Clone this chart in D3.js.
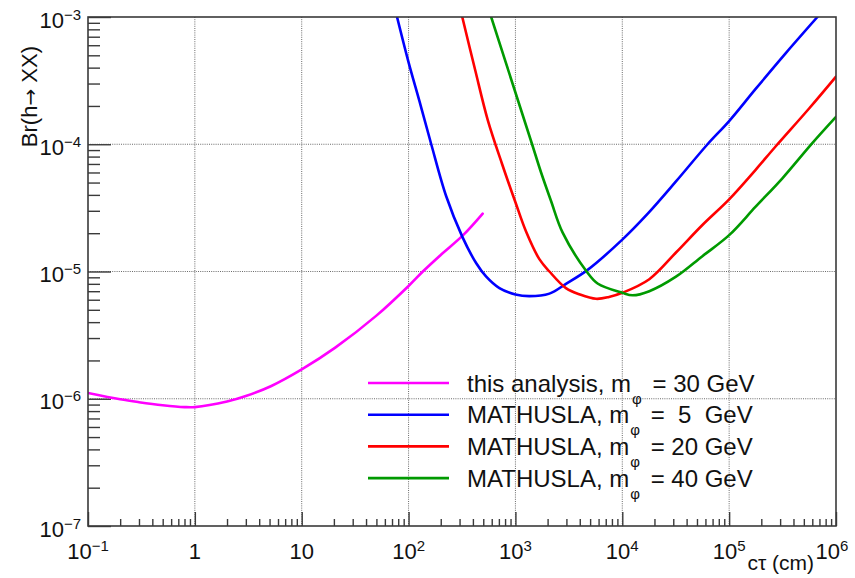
<!DOCTYPE html>
<html><head><meta charset="utf-8">
<script src="https://cdn.jsdelivr.net/npm/d3@7/dist/d3.min.js"></script>
<style>
body{margin:0;background:#fff}
svg{display:block;font-family:"Liberation Sans",Arial,Helvetica,sans-serif}
text{white-space:pre}
</style>
</head><body><svg id="chart" width="855" height="578"></svg>
<script>
// ---------- data ----------
const xTickExps = [-1, 0, 1, 2, 3, 4, 5, 6];
const yTickExps = [-7, -6, -5, -4, -3];
const xGridExps = [0, 1, 2, 3, 4, 5];
const yGridExps = [-6, -5, -4];
const minorMult = [2, 3, 4, 5, 6, 7, 8, 9];

const seriesColors = ["#ff00ff", "#0000ff", "#ff0000", "#009a00"];
const legendPrefix = ["this analysis, m", "MATHUSLA, m", "MATHUSLA, m", "MATHUSLA, m"];
const legendSub = ["φ", "φ", "φ", "φ"];
const legendSuffix = [" = 30 GeV", " =  5  GeV", " = 20 GeV", " = 40 GeV"];

const thisAnalysis30 = [[0.1,1.11e-6],[0.2,9.9e-7],[0.3,9.4e-7],[0.5,8.9e-7],[0.8,8.6e-7],[1,8.6e-7],
  [2,9.5e-7],[3,1.05e-6],[5.2,1.26e-6],[10,1.70e-6],[20.6,2.52e-6],[50,4.5e-6],[100,7.7e-6],
  [136,1.0e-5],[200,1.35e-5],[324,1.93e-5],[494,2.85e-5]];
const mathusla5 = [[78,1.0e-3],[100,4.4e-4],[127,2.15e-4],[163,1.0e-4],[225,3.9e-5],[318,1.88e-5],
  [430,1.16e-5],[533,9.1e-6],[708,7.4e-6],[1000,6.6e-6],[1350,6.4e-6],[2080,6.7e-6],[2970,8.0e-6],
  [4740,1.03e-5],[1e4,1.78e-5],[17400,2.86e-5],[31800,5.1e-5],[62800,1.0e-4],[1e5,1.52e-4],
  [1.77e5,2.72e-4],[3.39e5,5.2e-4],[6.7e5,1.0e-3]];
const mathusla20 = [[318,1.0e-3],[420,3.83e-4],[551,1.55e-4],[750,7.0e-5],[1000,3.5e-5],[1260,2.05e-5],
  [1675,1.25e-5],[2080,1.0e-5],[2970,7.4e-6],[4000,6.6e-6],[5680,6.1e-6],[7500,6.3e-6],[1e4,6.8e-6],
  [17900,8.7e-6],[31800,1.41e-5],[56200,2.32e-5],[1e5,3.69e-5],[1.77e5,6.3e-5],[2.72e5,9.6e-5],
  [5.6e5,1.91e-4],[1e6,3.4e-4]];
const mathusla40 = [[593,1.0e-3],[1000,2.55e-4],[1432,1.0e-4],[1738,6.0e-5],[2150,3.6e-5],[2767,2.02e-5],
  [4637,1.0e-5],[5873,8.05e-6],[1e4,6.8e-6],[12500,6.5e-6],[17900,7.0e-6],[31800,9.1e-6],
  [56200,1.32e-5],[1e5,1.93e-5],[1.77e5,3.23e-5],[3.15e5,5.4e-5],[6.0e5,1.02e-4],[1e6,1.64e-4]];
const allSeries = [thisAnalysis30, mathusla5, mathusla20, mathusla40];

// ---------- layout ----------
const L = 88, R = 836, T = 17, B = 526;
const svg = d3.select("#chart");
const x = d3.scaleLog().domain([0.1, 1e6]).range([L, R]);
const y = d3.scaleLog().domain([1e-7, 1e-3]).range([B, T]);
const frameCol = "#3a3a3a";

// grid
const g = svg.append("g");
g.selectAll(".gx").data(xGridExps).join("line")
  .attr("x1", d => x(Math.pow(10, d))).attr("x2", d => x(Math.pow(10, d)))
  .attr("y1", T).attr("y2", B)
  .attr("stroke", "#6a6a6a").attr("stroke-width", 1).attr("stroke-dasharray", "1,1.2");
g.selectAll(".gy").data(yGridExps).join("line")
  .attr("x1", L).attr("x2", R)
  .attr("y1", d => y(Math.pow(10, d))).attr("y2", d => y(Math.pow(10, d)))
  .attr("stroke", "#6a6a6a").attr("stroke-width", 1).attr("stroke-dasharray", "1,1.2");

// ticks via d3 axes (inward)
const xMinor = [];
for (let e = -1; e < 6; e++) minorMult.forEach(m => xMinor.push(m * Math.pow(10, e)));
const yMinor = [];
for (let e = -7; e < -3; e++) minorMult.forEach(m => yMinor.push(m * Math.pow(10, e)));

function styleAxis(sel) {
  sel.select(".domain").remove();
  sel.selectAll("line").attr("stroke", frameCol).attr("stroke-width", 1.4);
  sel.selectAll("text").remove();
}
svg.append("g").attr("transform", `translate(0,${B})`)
  .call(d3.axisBottom(x).tickValues(xMinor).tickSize(-7).tickFormat("")).call(styleAxis);
svg.append("g").attr("transform", `translate(0,${B})`)
  .call(d3.axisBottom(x).tickValues(xTickExps.map(e => Math.pow(10, e))).tickSize(-14).tickFormat("")).call(styleAxis);
svg.append("g").attr("transform", `translate(${L},0)`)
  .call(d3.axisLeft(y).tickValues(yMinor).tickSize(-12).tickFormat("")).call(styleAxis);
svg.append("g").attr("transform", `translate(${L},0)`)
  .call(d3.axisLeft(y).tickValues(yTickExps.map(e => Math.pow(10, e))).tickSize(-23).tickFormat("")).call(styleAxis);

// curves
svg.append("defs").append("clipPath").attr("id", "plotclip")
  .append("rect").attr("x", L).attr("y", T).attr("width", R - L).attr("height", B - T);
const line = d3.line().x(d => x(d[0])).y(d => y(d[1])).curve(d3.curveCatmullRom.alpha(0.5));
svg.append("g").attr("clip-path", "url(#plotclip)")
  .selectAll("path").data(allSeries).join("path")
  .attr("d", line).attr("fill", "none")
  .attr("stroke", (d, i) => seriesColors[i]).attr("stroke-width", 2.6)
  .attr("stroke-linejoin", "round").attr("stroke-linecap", "round");

// frame
svg.append("rect").attr("x", L).attr("y", T).attr("width", R - L).attr("height", B - T)
  .attr("fill", "none").attr("stroke", frameCol).attr("stroke-width", 1.6);

// tick labels
function powLabel(sel, e) {
  if (e === 0) { sel.text("1"); return; }
  if (e === 1) { sel.text("10"); return; }
  sel.append("tspan").text("10");
  sel.append("tspan").attr("font-size", 15).attr("dy", -8).text(e < 0 ? "\u2212" + (-e) : String(e));
}
xTickExps.forEach(e => {
  const t = svg.append("text").attr("x", e === 6 ? x(1e6) - 4 : x(Math.pow(10, e))).attr("y", 559)
    .attr("text-anchor", "middle").attr("font-size", 22).attr("fill", "#111");
  powLabel(t, e);
});
yTickExps.forEach(e => {
  const t = svg.append("text").attr("x", 81).attr("y", y(Math.pow(10, e)) + 10.5)
    .attr("text-anchor", "end").attr("font-size", 22).attr("fill", "#111");
  powLabel(t, e);
});

// axis titles
svg.append("text").attr("x", 814).attr("y", 570).attr("text-anchor", "end")
  .attr("font-size", 21).attr("fill", "#111").text("cτ (cm)");
const yt = svg.append("text").attr("transform", "translate(37,46) rotate(-90)").attr("text-anchor", "end")
  .attr("font-size", 22).attr("fill", "#111");
yt.append("tspan").text("Br(h");
yt.append("tspan").attr("font-family", "DejaVu Sans").attr("font-size", 20).text("\u2192");
yt.append("tspan").text(" XX)");

// legend
const legY0 = 383, legDY = 31.7;
seriesColors.forEach((c, i) => {
  const ly = legY0 + i * legDY;
  svg.append("line").attr("x1", 368).attr("x2", 449).attr("y1", ly).attr("y2", ly)
    .attr("stroke", c).attr("stroke-width", 2.6);
  const t = svg.append("text").attr("x", 467).attr("y", ly + 8.5).attr("font-size", 24).attr("fill", "#111");
  t.append("tspan").text(legendPrefix[i]);
  t.append("tspan").attr("font-size", 15).attr("dy", 12).attr("dx", 1).text(legendSub[i]);
  t.append("tspan").attr("dy", -12).attr("dx", 4).text(legendSuffix[i]);
});
</script>
</body></html>
